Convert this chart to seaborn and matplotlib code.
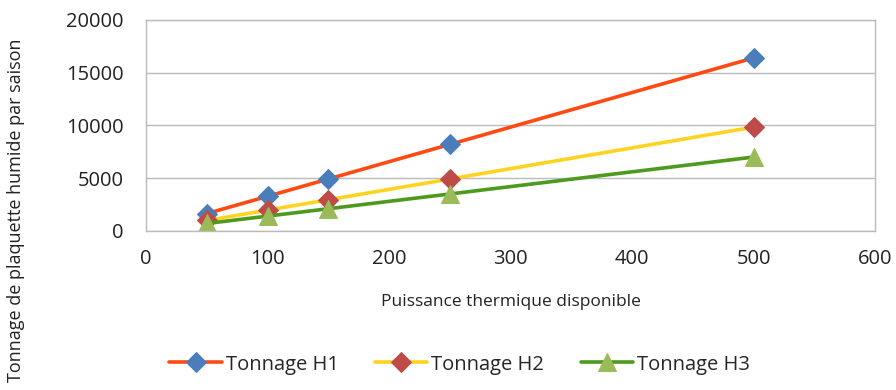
import matplotlib
matplotlib.use("Agg")
import matplotlib.pyplot as plt
import seaborn as sns
import pandas as pd

puissance = [50, 100, 150, 250, 500]
tonnage_h1 = [1640, 3280, 4920, 8200, 16400]
tonnage_h2 = [985, 1970, 2950, 4920, 9840]
tonnage_h3 = [700, 1400, 2100, 3500, 7000]
series_names = ["Tonnage H1", "Tonnage H2", "Tonnage H3"]
x_ticks = [0, 100, 200, 300, 400, 500, 600]
y_ticks = [0, 5000, 10000, 15000, 20000]

sns.set_theme(style="white")
plt.rcParams['font.family'] = ['Open Sans', 'DejaVu Sans']

fig = plt.figure(figsize=(8.96, 3.9), dpi=100)
ax = fig.add_axes([0.163, 0.408, 0.814, 0.541])

line_colors = ["#FF4A12", "#FFD320", "#4E9A1E"]
marker_colors = ["#4A7EBB", "#BE4B48", "#9BBB59"]
markers = ["D", "D", "^"]
msizes = [10, 10, 13]

for vals, name, lc, mc, mk, ms in zip([tonnage_h1, tonnage_h2, tonnage_h3], series_names,
                                      line_colors, marker_colors, markers, msizes):
    df = pd.DataFrame({"x": puissance, "y": vals})
    sns.lineplot(data=df, x="x", y="y", ax=ax, color=lc, linewidth=2.6, marker=mk,
                 markersize=ms, markerfacecolor=mc, markeredgecolor=mc, label=name)

ax.set_xlim(0, 600)
ax.set_ylim(0, 20000)
ax.set_xticks(x_ticks)
ax.set_yticks(y_ticks)
ax.tick_params(axis="both", labelsize=14.5, colors="#222222", length=0)
ax.tick_params(axis="x", pad=13)
ax.tick_params(axis="y", pad=16)
ax.yaxis.grid(True, color="#BBBBBB", linewidth=1)
ax.xaxis.grid(False)
for s in ax.spines.values():
    s.set_color("#BBBBBB")
    s.set_linewidth(1)

ax.set_xlabel("Puissance thermique disponible", fontsize=12.5, color="#222222", labelpad=18)
fig.text(0.018, 0.46, "Tonnage de plaquette humide par saison", rotation=90,
         fontsize=13, color="#222222", va="center", ha="center")
ax.set_ylabel("")

ax.legend(loc="upper center", bbox_to_anchor=(0.43, -0.5), ncol=3, frameon=False,
          fontsize=14.5, handlelength=2.6, columnspacing=1.8, handletextpad=0.2)

fig.savefig("out.png", dpi=100)
